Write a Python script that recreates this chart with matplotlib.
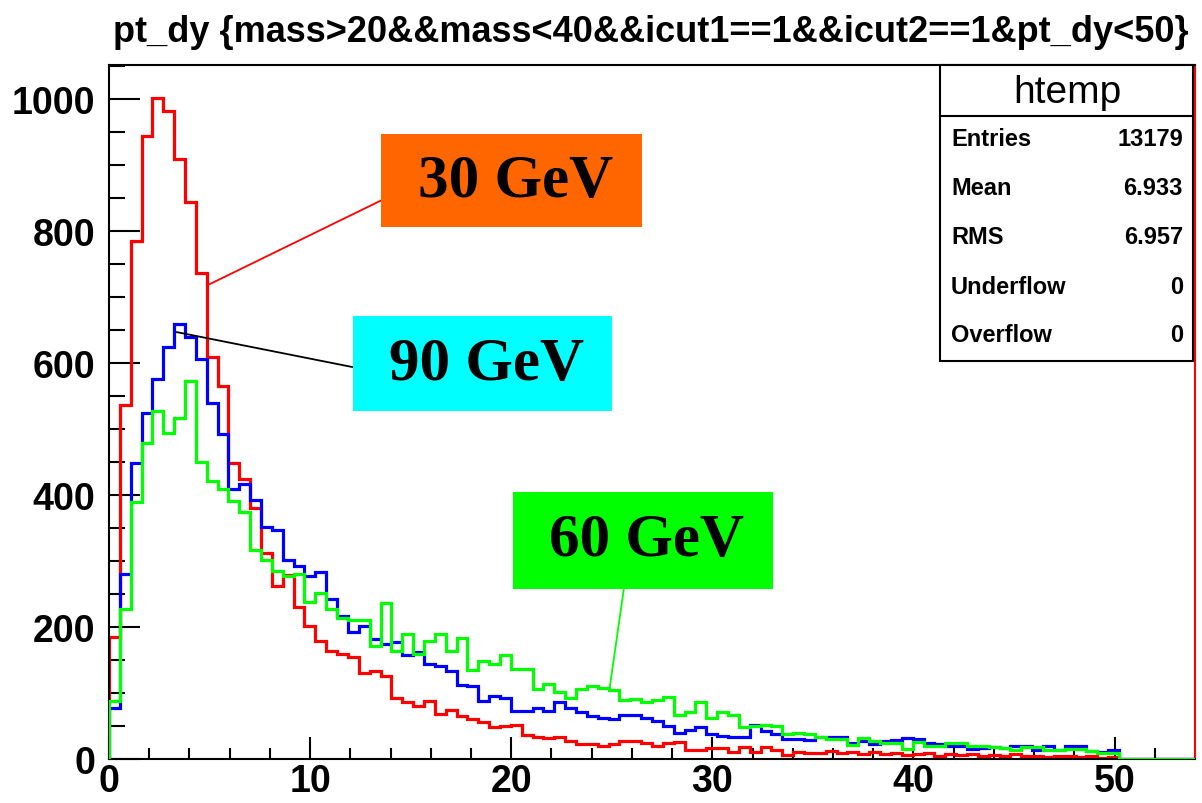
import matplotlib
matplotlib.use("Agg")
import matplotlib.pyplot as plt
import numpy as np
from matplotlib import font_manager
from matplotlib.patches import Rectangle

# 100 bins from 0 to 54 (ROOT htemp)
edges = np.linspace(0, 54, 101)

# 30 GeV (red, htemp)
red_30 = [185, 536, 785, 944, 1002, 982, 909, 844, 737, 609,
          565, 448, 424, 380, 313, 263, 279, 231, 202, 179,
          164, 159, 154, 131, 134, 126, 93, 86, 80, 88,
          68, 74, 65, 60, 56, 48, 50, 51, 36, 33,
          32, 34, 28, 23, 22, 20, 23, 28, 28, 25,
          20, 24, 26, 14, 14, 16, 16, 10, 18, 11,
          18, 13, 6, 11, 9, 9, 12, 9, 11, 8,
          10, 7, 9, 6, 8, 9, 5, 7, 6, 8,
          4, 6, 5, 7, 4, 5, 3, 5, 4, 3,
          4, 2, 3, 0, 0, 0, 0, 0, 0, 0]

# 90 GeV (blue)
blue_90 = [78, 280, 448, 525, 576, 625, 659, 640, 607, 540,
           493, 410, 417, 393, 352, 347, 302, 293, 277, 283,
           242, 217, 192, 201, 182, 174, 177, 158, 162, 144,
           141, 134, 112, 111, 88, 95, 92, 73, 73, 77,
           73, 87, 77, 71, 65, 62, 60, 66, 66, 62,
           57, 50, 40, 44, 49, 38, 35, 34, 34, 52,
           43, 38, 30, 31, 29, 33, 33, 33, 24, 27,
           22, 27, 29, 32, 30, 25, 22, 20, 20, 15,
           16, 18, 16, 20, 19, 14, 20, 13, 19, 20,
           12, 10, 13, 0, 0, 0, 0, 0, 0, 0]

# 60 GeV (green)
green_60 = [88, 227, 390, 479, 528, 494, 517, 573, 450, 422,
            410, 391, 375, 317, 302, 285, 277, 281, 238, 252,
            228, 213, 211, 211, 171, 236, 164, 189, 159, 179,
            190, 164, 183, 135, 149, 144, 158, 136, 136, 106,
            114, 101, 93, 106, 111, 108, 105, 90, 91, 86,
            90, 94, 67, 71, 86, 62, 71, 66, 48, 50,
            52, 50, 38, 39, 38, 34, 30, 30, 21, 32,
            27, 25, 25, 15, 26, 20, 20, 25, 25, 20,
            20, 18, 16, 13, 18, 18, 14, 14, 15, 15,
            12, 9, 9, 0, 0, 0, 0, 0, 0, 0]

title = "pt_dy {mass>20&&mass<40&&icut1==1&&icut2==1&pt_dy<50}"
stat_names = ["Entries", "Mean", "RMS", "Underflow", "Overflow"]
stat_values = ["13179", "6.933", "6.957", "0", "0"]


def has_font(name):
    try:
        font_manager.findfont(font_manager.FontProperties(family=name), fallback_to_default=False)
        return True
    except Exception:
        return False


narrow = "Liberation Sans Narrow" if has_font("Liberation Sans Narrow") else "Liberation Sans"

W, H = 1202, 804
fig = plt.figure(figsize=(W / 100, H / 100), dpi=100)
fx = lambda px: px / W
fy = lambda py: 1 - py / H

ax = fig.add_axes([fx(109), fy(760), (1195 - 109) / W, (760 - 66) / H])
ax.set_xlim(0, 54)
ax.set_ylim(0, 1052)

ax.stairs(red_30, edges, color="#ff0000", lw=2.3, baseline=0, zorder=2)
ax.stairs(blue_90, edges, color="#0000ff", lw=2.3, baseline=0, zorder=3)
ax.stairs(green_60, edges, color="#00ff00", lw=2.3, baseline=0, zorder=4)

for s in ax.spines.values():
    s.set_linewidth(1.5)
    s.set_color("black")
ax.spines["right"].set_color("#ff0000")

ax.set_xticks(np.arange(0, 51, 10))
ax.set_xticks(np.arange(0, 53, 2), minor=True)
ax.set_yticks(np.arange(0, 1001, 200))
ax.set_yticks(np.arange(0, 1051, 50), minor=True)
ax.tick_params(axis="x", which="major", direction="in", length=16, width=1.5, pad=3)
ax.tick_params(axis="x", which="minor", direction="in", length=8, width=1.5)
ax.tick_params(axis="y", which="major", direction="in", length=22, width=1.5, pad=10)
ax.tick_params(axis="y", which="minor", direction="in", length=11.5, width=1.5)
for lab in ax.get_xticklabels() + ax.get_yticklabels():
    lab.set_fontfamily("Liberation Sans")
    lab.set_fontweight("bold")
    lab.set_fontsize(27)

# energy label boxes with connector lines
boxes = [
    ("30 GeV", "#ff6600", (13.52, 806), (12.97, 141), (13.62, 848), (5.02, 720), "#ff0000"),
    ("90 GeV", "#00ffff", (12.13, 527), (12.87, 144), (12.13, 594), (3.38, 647), "black"),
    ("60 GeV", "#00ff00", (20.08, 258), (12.92, 147), (25.6, 258), (24.9, 109), "#00ff00"),
]
for label, fc, (x0, y0), (w, h), p1, p2, lc in boxes:
    ax.plot([p1[0], p2[0]], [p1[1], p2[1]], color=lc, lw=1.3, zorder=5)
    ax.add_patch(Rectangle((x0, y0), w, h, facecolor=fc, edgecolor="none", zorder=6))
    ax.text(x0 + w / 2 + 0.2, y0 + h / 2, label, ha="center", va="center",
            fontfamily="Liberation Serif", fontweight="bold", fontsize=44, zorder=7)

# title
fig.text(fx(651), fy(33), title, ha="center", va="center",
         fontfamily=narrow, fontweight="bold", fontsize=26)

# stats box
fig.patches.append(Rectangle((fx(940), fy(362)), (1193 - 940) / W, (362 - 66) / H,
                             transform=fig.transFigure, facecolor="white",
                             edgecolor="black", lw=1.5, zorder=10))
fig.lines.append(plt.Line2D([fx(940), fx(1193)], [fy(117), fy(117)],
                            transform=fig.transFigure, color="black", lw=1.5, zorder=11))
fig.text(fx(1067), fy(93), "htemp", ha="center", va="center",
         fontfamily="Liberation Sans", fontsize=28, zorder=12)
for i, (n, v) in enumerate(zip(stat_names, stat_values)):
    yy = fy(140 + 49 * i)
    fig.text(fx(951), yy, n, ha="left", va="center", fontfamily="Liberation Sans",
             fontweight="bold", fontsize=17, zorder=12)
    fig.text(fx(1183), yy, v, ha="right", va="center", fontfamily="Liberation Sans",
             fontweight="bold", fontsize=17, zorder=12)

fig.savefig("out.png", dpi=100)
